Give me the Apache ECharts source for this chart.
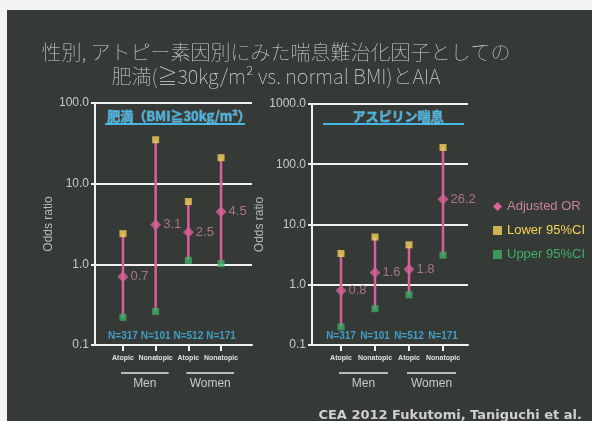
<!DOCTYPE html>
<html>
<head>
<meta charset="utf-8">
<script src="https://cdn.jsdelivr.net/npm/echarts@6/dist/echarts.min.js"></script>
<style>
  html, body { margin: 0; padding: 0; background: #353a36; }
  #chart { width: 592px; height: 421px; }
</style>
</head>
<body>
<div id="chart"></div>
<script>
// Subgroups (sex × atopy) shown in both panels
const groups = ['Atopic', 'Nonatopic', 'Atopic', 'Nonatopic'];
const sexes = ['Men', 'Women'];
const sampleSizes = [317, 101, 512, 171];

// Obesity (BMI ≥ 30) panel
const obesityOR = [0.7, 3.1, 2.5, 4.5];
const obesityYellow = [2.4, 35, 6.0, 21];
const obesityGreen = [0.22, 0.26, 1.12, 1.02];

// Aspirin-intolerant asthma panel
const aiaOR = [0.8, 1.6, 1.8, 26.2];
const aiaYellow = [3.3, 6.2, 4.6, 190];
const aiaGreen = [0.2, 0.4, 0.68, 3.1];

// Y-axis tick labels of each panel
const obesityTicks = [0.1, 1, 10, 100];
const aiaTicks = [0.1, 1, 10, 100, 1000];

const PINK = '#d9609a';
const PINK_TEXT = '#c8809f';
const YELLOW = '#f2d257';
const GREEN = '#3fae66';
const CYAN = '#45b6e6';
const AXIS = '#f2f2f2';
const TEXT = '#c9c9c9';

const chart = echarts.init(document.getElementById('chart'));

function wideY(gridIndex, ticks) {
  return {
    gridIndex, type: 'log', logBase: 10,
    min: ticks[0], max: ticks[ticks.length - 1],
    axisLine: { show: true, lineStyle: { color: AXIS, width: 2 } },
    axisTick: { show: true, length: 4, lineStyle: { color: AXIS, width: 2 } },
    axisLabel: { color: TEXT, fontSize: 12, margin: 6,
      fontFamily: 'Liberation Sans, Arial, sans-serif',
      formatter: v => Number(v).toFixed(1) },
    splitLine: { show: true, lineStyle: { color: AXIS, width: 2 } },
    name: 'Odds ratio', nameLocation: 'middle', nameRotate: 90,
    nameGap: gridIndex === 0 ? 31 : 38,
    nameTextStyle: { color: '#b8b8b8', fontSize: 12, fontFamily: 'Liberation Sans, Arial, sans-serif' }
  };
}
function narrowY(gridIndex, ticks) {
  return { gridIndex, type: 'log', logBase: 10, min: ticks[0], max: ticks[ticks.length - 1], show: false };
}
function wideX(gridIndex) {
  return { gridIndex, type: 'value', min: 0, max: 1,
    axisLine: { show: true, lineStyle: { color: AXIS, width: 2 } },
    axisTick: { show: false }, axisLabel: { show: false }, splitLine: { show: false } };
}
function catX(gridIndex) {
  return { gridIndex, type: 'category', data: groups, boundaryGap: true,
    axisLine: { show: false },
    axisTick: { show: true, alignWithLabel: true, interval: 0, length: 6, lineStyle: { color: AXIS, width: 2 } },
    axisLabel: { color: '#e0e0e0', fontSize: 7, fontWeight: 'bold', margin: 10, interval: 0,
      fontFamily: 'Liberation Sans, Arial, sans-serif' },
    splitLine: { show: false } };
}

function errorBars(axisIdx, lows, highs) {
  return {
    type: 'custom', name: 'Adjusted OR', xAxisIndex: axisIdx, yAxisIndex: axisIdx, z: 2,
    data: lows.map((lo, i) => [i, lo, highs[i]]),
    renderItem: (params, api) => {
      const a = api.coord([api.value(0), api.value(1)]);
      const b = api.coord([api.value(0), api.value(2)]);
      return { type: 'line', shape: { x1: a[0], y1: a[1], x2: b[0], y2: b[1] },
        style: { stroke: PINK, lineWidth: 2.5 } };
    },
    silent: true
  };
}
function squares(axisIdx, name, values, color) {
  return { type: 'scatter', name, xAxisIndex: axisIdx, yAxisIndex: axisIdx, z: 3,
    symbol: 'rect', symbolSize: 7, itemStyle: { color }, data: values };
}
function orPoints(axisIdx, values) {
  return { type: 'scatter', name: 'Adjusted OR', xAxisIndex: axisIdx, yAxisIndex: axisIdx, z: 4,
    symbol: 'diamond', symbolSize: 11, itemStyle: { color: PINK }, data: values,
    label: { show: true, position: 'right', distance: 2, color: PINK_TEXT, fontSize: 13,
      fontFamily: 'Liberation Sans, Arial, sans-serif',
      formatter: p => p.value.toFixed(1) } };
}
function nLabels(axisIdx, minVal) {
  return { type: 'scatter', xAxisIndex: axisIdx, yAxisIndex: axisIdx, z: 5, symbolSize: 0,
    data: sampleSizes.map(() => minVal), silent: true,
    label: { show: true, position: 'top', distance: 4, color: CYAN, fontSize: 10, fontWeight: 'bold',
      fontFamily: 'Liberation Sans, Arial, sans-serif',
      formatter: p => 'N=' + sampleSizes[p.dataIndex] } };
}

const option = {
  backgroundColor: '#353a36',
  animation: false,
  title: [
    { text: '性別, アトピー素因別にみた喘息難治化因子としての\n肥満(≧30kg/m² vs. normal BMI)とAIA',
      left: 271, top: 35, textAlign: 'center',
      textStyle: { color: '#d2d2d2', fontSize: 20, fontWeight: 'lighter', lineHeight: 24,
        fontFamily: 'Noto Sans CJK JP, sans-serif' } },
    { text: '肥満（BMI≧30kg/m²）', left: 174, top: 105, textAlign: 'center',
      textStyle: { color: CYAN, fontSize: 13, fontWeight: 'bold',
        fontFamily: 'Noto Sans CJK JP, sans-serif',
        textBorderColor: 'rgba(200,235,255,0.35)', textBorderWidth: 1 } },
    { text: 'アスピリン喘息', left: 393, top: 105, textAlign: 'center',
      textStyle: { color: CYAN, fontSize: 13, fontWeight: 'bold',
        fontFamily: 'Noto Sans CJK JP, sans-serif',
        textBorderColor: 'rgba(200,235,255,0.35)', textBorderWidth: 1 } },
    { text: 'CEA 2012 Fukutomi, Taniguchi et al.', right: 5, top: 404,
      textStyle: { color: '#cfcfcf', fontSize: 13, fontWeight: 'bold',
        fontFamily: 'DejaVu Sans, Verdana, sans-serif' } }
  ],
  legend: {
    orient: 'vertical', left: 488, top: 195, itemGap: 11, itemWidth: 9, itemHeight: 9,
    textStyle: { fontSize: 13, fontFamily: 'Liberation Sans, Arial, sans-serif' },
    data: [
      { name: 'Adjusted OR', icon: 'diamond', itemStyle: { color: PINK }, textStyle: { color: PINK_TEXT } },
      { name: 'Lower 95%CI', icon: 'rect', itemStyle: { color: YELLOW }, textStyle: { color: YELLOW } },
      { name: 'Upper 95%CI', icon: 'rect', itemStyle: { color: GREEN }, textStyle: { color: GREEN } }
    ]
  },
  grid: [
    { left: 95, right: 340, top: 103, bottom: 76 },
    { left: 106.6, right: 354.6, top: 103, bottom: 76 },
    { left: 312, right: 124, top: 104, bottom: 76 },
    { left: 324, right: 132, top: 104, bottom: 76 }
  ],
  xAxis: [wideX(0), catX(1), wideX(2), catX(3)],
  yAxis: [wideY(0, obesityTicks), narrowY(1, obesityTicks), wideY(2, aiaTicks), narrowY(3, aiaTicks)],
  series: [
    errorBars(1, obesityGreen, obesityYellow),
    squares(1, 'Lower 95%CI', obesityYellow, YELLOW),
    squares(1, 'Upper 95%CI', obesityGreen, GREEN),
    orPoints(1, obesityOR),
    nLabels(1, obesityTicks[0]),
    errorBars(3, aiaGreen, aiaYellow),
    squares(3, 'Lower 95%CI', aiaYellow, YELLOW),
    squares(3, 'Upper 95%CI', aiaGreen, GREEN),
    orPoints(3, aiaOR),
    nLabels(3, aiaTicks[0])
  ]
};
chart.setOption(option);

// Sex group brackets under the category labels, plus panel-title underlines and page border
const extras = [
  { type: 'rect', shape: { x: 0, y: 0, width: 592, height: 10 }, style: { fill: '#f3f3f3' }, z: 100 },
  { type: 'rect', shape: { x: 0, y: 0, width: 7, height: 421 }, style: { fill: '#f3f3f3' }, z: 100 },
  { type: 'line', shape: { x1: 105, y1: 124, x2: 245, y2: 124 }, style: { stroke: CYAN, lineWidth: 2 } },
  { type: 'line', shape: { x1: 323, y1: 124, x2: 464, y2: 124 }, style: { stroke: CYAN, lineWidth: 2 } }
];
[1, 3].forEach(axisIdx => {
  sexes.forEach((sex, s) => {
    const xa = chart.convertToPixel({ xAxisIndex: axisIdx }, s * 2);
    const xb = chart.convertToPixel({ xAxisIndex: axisIdx }, s * 2 + 1);
    const x1 = xa - 2, x2 = xb + 13;
    extras.push({ type: 'line', shape: { x1, y1: 373, x2, y2: 373 },
      style: { stroke: '#e6e6e6', lineWidth: 1.5 } });
    extras.push({ type: 'text', x: (x1 + x2) / 2, y: 384,
      style: { text: sex, fill: TEXT, fontSize: 12, align: 'center', verticalAlign: 'middle',
        fontFamily: 'Liberation Sans, Arial, sans-serif' } });
  });
});
chart.setOption({ graphic: { elements: extras } });
</script>
</body>
</html>
